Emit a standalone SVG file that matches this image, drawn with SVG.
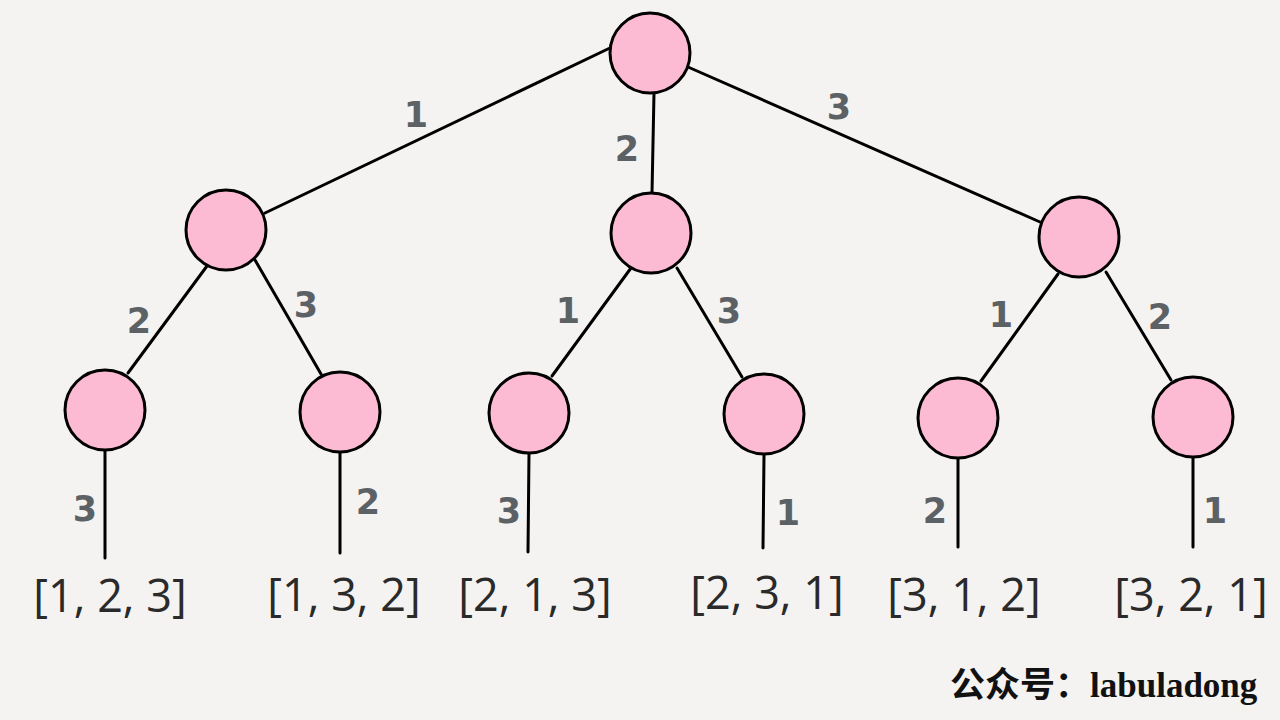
<svg xmlns="http://www.w3.org/2000/svg" width="1280" height="720" viewBox="0 0 1280 720">
<style>
.node{fill:#fdbbd3;stroke:#000;stroke-width:3}
.edge{stroke:#000;stroke-width:3;fill:none;stroke-linecap:round}
.lbl{font-family:"DejaVu Sans",sans-serif;font-size:35px;font-weight:bold;fill:#5c6165;text-anchor:middle}
.res{font-family:"Open Sans","Noto Sans",sans-serif;font-size:45px;fill:#2a2a2a;text-anchor:middle}
.wm{font-family:"Liberation Serif","Noto Sans CJK SC",serif;font-size:35px;font-weight:bold;fill:#111}
</style>
<rect width="1280" height="720" fill="#f4f3f1"/>
<g id="connectors">
<line class="edge" x1="612" y1="47" x2="265" y2="213"/>
<line class="edge" x1="654" y1="93" x2="652" y2="193"/>
<line class="edge" x1="688" y1="67" x2="1040" y2="222"/>
<line class="edge" x1="207" y1="266" x2="128" y2="373"/>
<line class="edge" x1="255" y1="260" x2="321" y2="374"/>
<line class="edge" x1="631" y1="268" x2="552" y2="376"/>
<line class="edge" x1="677" y1="268" x2="742" y2="377"/>
<line class="edge" x1="1058" y1="274" x2="981" y2="381"/>
<line class="edge" x1="1106" y1="272" x2="1171" y2="380"/>
<line class="edge" x1="105" y1="450" x2="105" y2="558"/>
<line class="edge" x1="340" y1="452" x2="340" y2="553"/>
<line class="edge" x1="529" y1="453" x2="528" y2="552"/>
<line class="edge" x1="764" y1="455" x2="763" y2="548"/>
<line class="edge" x1="958" y1="458" x2="958" y2="547"/>
<line class="edge" x1="1193" y1="458" x2="1193" y2="547"/>
</g>
<g id="labels">
<text class="lbl" x="416" y="127">1</text>
<text class="lbl" x="627" y="161">2</text>
<text class="lbl" x="839" y="119">3</text>
<text class="lbl" x="139" y="333">2</text>
<text class="lbl" x="306" y="317">3</text>
<text class="lbl" x="568" y="323">1</text>
<text class="lbl" x="729" y="323">3</text>
<text class="lbl" x="1001" y="327">1</text>
<text class="lbl" x="1160" y="329">2</text>
<text class="lbl" x="85" y="521">3</text>
<text class="lbl" x="368" y="514">2</text>
<text class="lbl" x="509" y="523">3</text>
<text class="lbl" x="788" y="525">1</text>
<text class="lbl" x="935" y="523">2</text>
<text class="lbl" x="1215" y="523">1</text>
</g>
<g id="root"><circle class="node" cx="650" cy="53" r="40"/></g>
<g id="n1"><circle class="node" cx="226" cy="230" r="40"/></g>
<g id="n2"><circle class="node" cx="651" cy="233" r="40"/></g>
<g id="n3"><circle class="node" cx="1079" cy="237" r="40"/></g>
<g id="n12"><circle class="node" cx="105" cy="410" r="40"/></g>
<g id="n13"><circle class="node" cx="340" cy="412" r="40"/></g>
<g id="n21"><circle class="node" cx="529" cy="413" r="40"/></g>
<g id="n23"><circle class="node" cx="764" cy="414" r="40"/></g>
<g id="n31"><circle class="node" cx="958" cy="418" r="40"/></g>
<g id="n32"><circle class="node" cx="1193" cy="417" r="40"/></g>
<g id="results">
<text class="res" x="110" y="612">[1, 2, 3]</text>
<text class="res" x="344" y="611">[1, 3, 2]</text>
<text class="res" x="535" y="611">[2, 1, 3]</text>
<text class="res" x="767" y="609">[2, 3, 1]</text>
<text class="res" x="964" y="611">[3, 1, 2]</text>
<text class="res" x="1191" y="611">[3, 2, 1]</text>
</g>
<text class="wm" x="950" y="697">公众号：labuladong</text>
</svg>
